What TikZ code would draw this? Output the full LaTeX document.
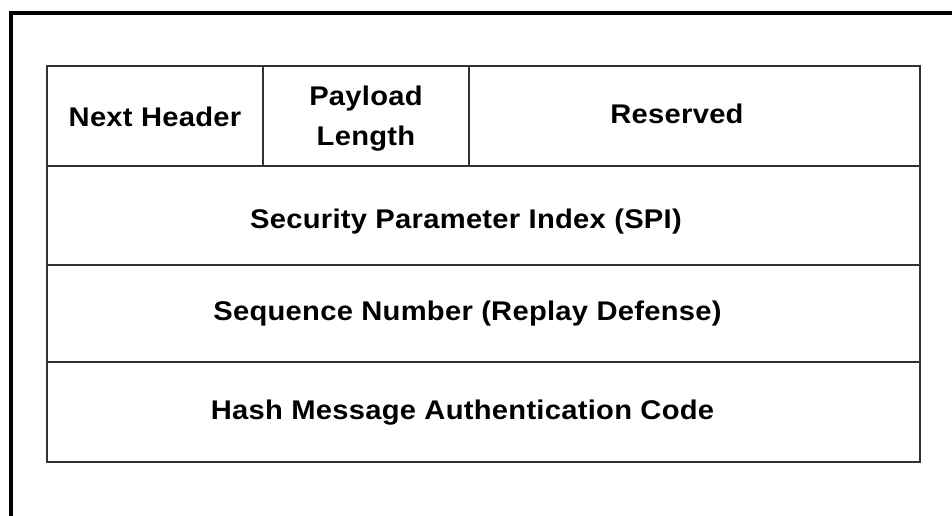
\documentclass[tikz,border=0pt]{standalone}
\usepackage{fontspec}
\newfontfamily\lblfont[FakeStretch=1.08,LetterSpace=1]{Liberation Sans}
\begin{document}
\begin{tikzpicture}[x=1pt,y=-1pt,
  frame/.style={line width=4pt,black},
  grid/.style={line width=2pt,draw=black!80},
  lbl/.style={inner sep=0pt,anchor=base,font=\lblfont\bfseries\fontsize{27}{38}\selectfont,text=black}]
\useasboundingbox (0,0) rectangle (952,516);
% outer frame: top and left edges only
\draw[frame] (11,516) -- (11,13.5) -- (952,13.5);
% header table
\draw[grid] (47,66) rectangle (920,462);
\draw[grid] (47,166) -- (920,166);
\draw[grid] (47,265) -- (920,265);
\draw[grid] (47,362) -- (920,362);
\draw[grid] (263,66) -- (263,166);
\draw[grid] (469,66) -- (469,166);
% field labels
\node[lbl] (nh) at (155,126) {Next Header};
\node[lbl] (pl1) at (366,106) {Payload};
\node[lbl] (pl2) at (366,145) {Length};
\node[lbl] (rs) at (677,124) {Reserved};
\node[lbl] (spi) at (466,228) {Security Parameter Index (SPI)};
\node[lbl] (seq) at (467.5,320) {Sequence Number (Replay Defense)};
\node[lbl] (hmac) at (462.5,419) {Hash Message Authentication Code};
\end{tikzpicture}
\end{document}
